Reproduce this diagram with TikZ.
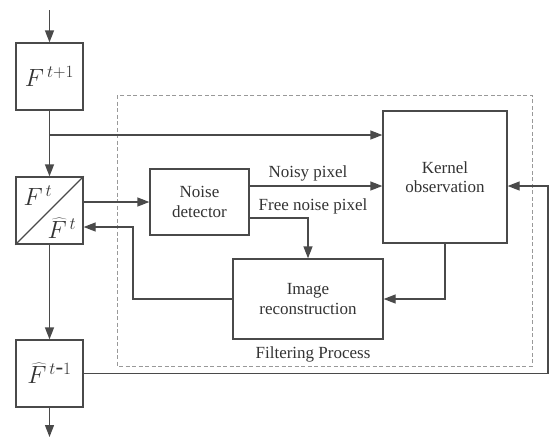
\documentclass[tikz,border=0pt]{standalone}
\usepackage{fontspec}
\setmainfont{Liberation Serif}
\usetikzlibrary{arrows.meta,calc}
\definecolor{ln}{HTML}{4A4A4A}
\definecolor{tx}{HTML}{333333}
\begin{document}
\begin{tikzpicture}[x=1pt,y=-1pt,
  box/.style={draw=ln,line width=1.3pt,minimum width=#1,inner sep=0pt,align=center,text=tx,font=\fontsize{17}{19.5}\selectfont},
  sq/.style={draw=ln,line width=1.3pt,minimum width=67pt,minimum height=67pt,inner sep=0pt,text=tx},
  arr/.style={draw=ln,line width=1.3pt,-{Triangle[length=12pt,width=9pt]}},
  ln/.style={draw=ln,line width=1.2pt},
  mth/.style={text=tx,inner sep=0pt,font=\fontsize{23}{25}\selectfont},
  lbl/.style={text=tx,font=\fontsize{17}{19}\selectfont,inner sep=0pt}]
\useasboundingbox (0,0) rectangle (551,437);
% dashed frame
\draw[gray!80,dashed,line width=0.8pt,dash pattern=on 4pt off 2.5pt] (117,95) rectangle (532,366);
% left column
\node[sq,mth] (f1) at (49.5,76.5) {$F^{\,t+1}$};
\node[sq] (f2) at (49.5,210.5) {};
\draw[ln] (f2.south west) -- (f2.north east);
\node[mth] (f2a) at (38,196) {$F^{\,t}$};
\node[mth] (f2b) at (62,228) {$\widehat{F}^{\,t}$};
\node[sq,mth] (f3) at (49.5,373.5) {$\widehat{F}^{\,t\mbox{-}1}$};
% process boxes
\node[box=99pt,minimum height=66pt] (det) at (199.5,202) {Noise\\detector};
\node[box=124pt,minimum height=132pt] (ker) at (445,177) {Kernel\\observation};
\node[box=150pt,minimum height=80pt] (img) at (308,299) {Image\\reconstruction};
% labels
\node[lbl] (lnp) at (308,173) {Noisy pixel};
\node[lbl] (lfp) at (313,206) {Free noise pixel};
\node[lbl] (lfilt) at (313,354) {Filtering Process};
% coordinates
\coordinate (top) at (49.5,10);
\coordinate (bot) at (49.5,437);
\coordinate (br) at (49.5,135);
\coordinate (fb) at (548,0);
\coordinate (lb) at (133,0);
\coordinate (kin) at ([yshift=-9pt]ker.east);
\coordinate (fin) at ([yshift=-16.5pt]f2.east);
% connectors
\draw[arr] (top) -- (f1.north);
\draw[arr] (f1.south) -- (f2.north);
\draw[arr] (br) -- (br -| ker.west);
\draw[arr] (f2.south) -- (f3.north);
\draw[arr] (f3.south) -- (bot);
\draw[arr] (det.west -| f2.east) -- (det.west);
\draw[arr] ([yshift=16pt]det.east) -- ([yshift=16pt]det.east -| ker.west);
\draw[arr] ([yshift=-16pt]det.east) -| (img.north);
\draw[arr] (ker.south) |- (img.east);
\draw[arr] (img.west) -- (img.west -| lb) -- (lb |- fin) -- (fin);
\draw[arr] (f3.east) -- (f3.east -| fb) -- (fb |- kin) -- (kin);
\end{tikzpicture}
\end{document}
